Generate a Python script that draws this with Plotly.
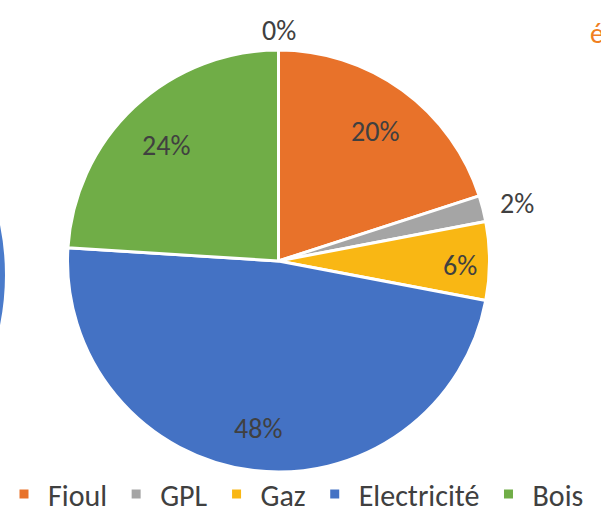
import math

import plotly.graph_objects as go


W, H = 601, 520

# parts du mix de chauffage (%)
categories = ['Fioul', 'GPL', 'Gaz', 'Electricité', 'Bois']
shares = [20, 2, 6, 48, 24]
# dernière part, hors légende visible (coupée à droite)
other_share = 0

colors = ['#E8722A', '#A5A5A5', '#F9B714', '#4472C4', '#70AD47']
text_color = '#404040'
font = 'Carlito, Calibri, Lato, sans-serif'

# géométrie du camembert (fraction de la figure)
dom_x = [0.1115, 0.8153]
dom_y = [0.0923, 0.9038]
r_px = min((dom_x[1] - dom_x[0]) * W, (dom_y[1] - dom_y[0]) * H) / 2
cx = sum(dom_x) / 2
cy = sum(dom_y) / 2

fig = go.Figure()
fig.add_trace(go.Pie(
    labels=categories,
    values=shares,
    sort=False,
    direction='clockwise',
    rotation=0,
    marker=dict(colors=colors, line=dict(color='white', width=3)),
    textinfo='none',
    hoverinfo='label+percent',
    domain=dict(x=dom_x, y=dom_y),
))


def label_pos(start, share):
    """Position d'une étiquette façon Excel « ajustement optimal »."""
    total = sum(shares) + other_share
    theta = 2 * math.pi * (start + share / 2) / total
    if share >= 10:
        d = 0.78
    elif share >= 5:
        d = 0.86
    elif share > 0:
        d = 1.165
    else:
        d = 1.11
    return (cx + d * r_px * math.sin(theta) / W,
            cy + d * r_px * math.cos(theta) / H)


annotations = []
start = 0
for share in shares + [other_share]:
    x, y = label_pos(start, share)
    annotations.append(dict(
        x=x, y=y, xref='paper', yref='paper',
        text=f'{share}%', showarrow=False,
        xanchor='center', yanchor='middle', yshift=-4,
        font=dict(family=font, size=28, color=text_color),
    ))
    start += share

# bout du titre du graphique voisin, coupé au bord droit
annotations.append(dict(
    x=588 / W, y=1 - 33 / H, xref='paper', yref='paper',
    text='é', showarrow=False, xanchor='left', yanchor='middle',
    font=dict(family=font, size=28, color='#F07F22'),
))

fig.update_layout(
    width=W, height=H,
    margin=dict(l=0, r=0, t=0, b=0),
    paper_bgcolor='white',
    plot_bgcolor='white',
    showlegend=True,
    legend=dict(
        orientation='h',
        x=0, xanchor='left',
        y=0, yanchor='bottom',
        itemwidth=38,
        font=dict(family=font, size=30, color=text_color),
        bgcolor='rgba(0,0,0,0)',
    ),
    annotations=annotations,
    # bord du camembert voisin, visible à gauche
    shapes=[dict(
        type='circle', xref='paper', yref='paper',
        x0=-0.830, x1=5 / W, y0=-0.0134, y1=0.9558,
        fillcolor='#4A7BCB', line=dict(width=0), layer='below',
    )],
)

# pas de marge de page autour du graphique, pas de barre d'outils
fig.write_html(
    'out.html',
    config={'displayModeBar': False},
    post_script="document.body.style.margin = '0';",
)
